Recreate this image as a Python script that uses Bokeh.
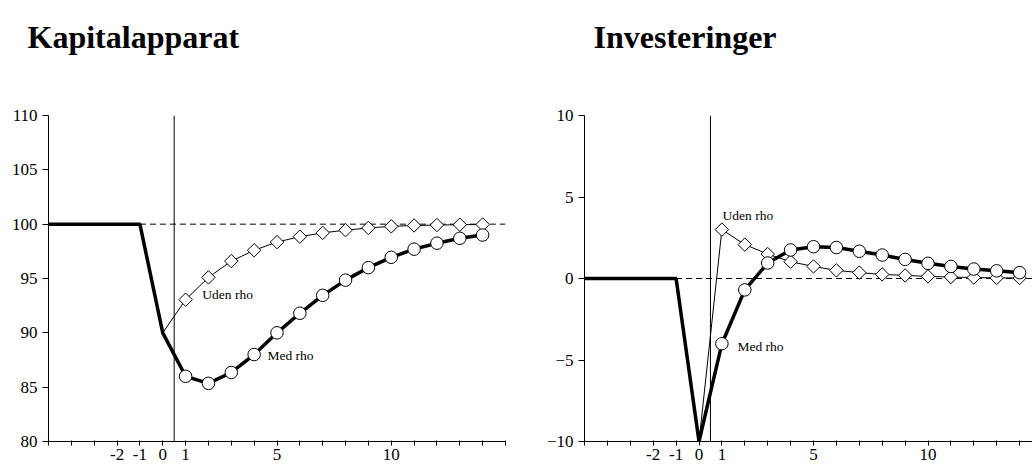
import numpy as np
from bokeh.plotting import figure
from bokeh.models import Range1d, FixedTicker, Label
from bokeh.layouts import row, column
from bokeh.core.properties import value
from bokeh.embed import file_html
from bokeh.resources import INLINE

# ---------------- data ----------------
periods_pre = [-5, -1, 0]
periods = list(range(1, 15))

# Kapitalapparat
kap_pre = [100, 100, 90]
kap_start_uden = 90
kap_med = [86.0, 85.35, 86.35, 88.0, 90.0, 91.8, 93.45, 94.85, 96.0, 96.95, 97.7, 98.25, 98.7, 99.0]
kap_uden = [93.05, 95.1, 96.6, 97.6, 98.35, 98.85, 99.2, 99.45, 99.65, 99.8, 99.88, 99.92, 99.95, 99.97]
kap_base = 100
kap_yticks = [80, 85, 90, 95, 100, 105, 110]

# Investeringer
inv_pre = [0, 0, -10]
inv_start_uden = -10
inv_med = [-4.0, -0.7, 0.95, 1.75, 1.95, 1.9, 1.67, 1.44, 1.17, 0.93, 0.74, 0.58, 0.47, 0.36]
inv_uden = [3.0, 2.08, 1.5, 1.03, 0.74, 0.5, 0.36, 0.25, 0.19, 0.13, 0.09, 0.06, 0.04, 0.03]
inv_base = 0
inv_yticks = [-10, -5, 0, 5, 10]

titles = ["Kapitalapparat", "Investeringer"]
x_ticks = list(range(-5, 16))
x_labels_shown = [-2, -1, 0, 1, 5, 10]
shock_x = 0.5
dash_start = -1

FONT = "Liberation Serif"
TITLE_H = 60


def make_title(text, width, left):
    t = figure(width=width, height=TITLE_H, min_border=0,
               x_range=Range1d(0, width), y_range=Range1d(0, TITLE_H),
               x_axis_location=None, y_axis_location=None,
               output_backend="svg", toolbar_location=None,
               background_fill_color="white", border_fill_color="white")
    t.outline_line_color = None
    t.xgrid.visible = False
    t.ygrid.visible = False
    t.text(x=[left], y=[TITLE_H - 36], text=[text], text_font=value(FONT),
           text_font_size="32px", text_font_style="bold", text_color="black",
           text_baseline="alphabetic", text_align="left")
    return t


def make_panel(pre, start_uden, med, uden, base, yticks, x_end,
               frame_w, border_l, border_r, uden_pos, med_pos):
    ymin, ymax = yticks[0], yticks[-1]
    p = figure(frame_width=frame_w, frame_height=326,
               x_range=Range1d(-5, x_end), y_range=Range1d(ymin, ymax),
               min_border_left=border_l, min_border_right=border_r,
               min_border_top=115 - TITLE_H, min_border_bottom=0,
               output_backend="svg", toolbar_location=None,
               background_fill_color="white", border_fill_color="white")
    p.outline_line_color = None
    p.xgrid.visible = False
    p.ygrid.visible = False

    # axes
    p.xaxis.ticker = FixedTicker(ticks=x_ticks)
    p.xaxis.major_label_overrides = {t: ("" if t not in x_labels_shown else str(t)) for t in x_ticks}
    p.xaxis.minor_tick_line_color = None
    p.xaxis.major_tick_in = 1
    p.xaxis.major_tick_out = 4
    p.xaxis.major_label_standoff = 3
    p.yaxis.ticker = FixedTicker(ticks=yticks)
    p.yaxis.minor_tick_line_color = None
    p.yaxis.major_tick_in = 0
    p.yaxis.major_tick_out = 6
    p.yaxis.major_label_standoff = 5
    for ax in (p.xaxis, p.yaxis):
        ax.major_label_text_font = FONT
        ax.major_label_text_font_size = "17px"
        ax.major_label_text_color = "black"
        ax.axis_line_color = "black"
        ax.major_tick_line_color = "black"

    # reference lines
    p.segment(x0=[shock_x], y0=[ymin], x1=[shock_x], y1=[ymax], line_color="black", line_width=1)
    p.segment(x0=[dash_start], y0=[base], x1=[x_end], y1=[base], line_color="black",
              line_width=1, line_dash="6 4")

    # thin line (Uden rho)
    p.line([0] + periods, [start_uden] + uden, line_color="black", line_width=1)
    # thick line (Med rho)
    p.line(periods_pre + periods, pre + med, line_color="black", line_width=3.5)

    p.scatter(periods, uden, marker="square", angle=np.pi / 4, size=9.5,
              fill_color="white", line_color="black", line_width=1)
    p.scatter(periods, med, marker="circle", size=12.5,
              fill_color="white", line_color="black", line_width=1)

    p.add_layout(Label(x=uden_pos[0], y=uden_pos[1], text="Uden rho", text_font=FONT,
                       text_color="black", text_font_size="13.5px",
                       text_baseline="middle", text_align="left"))
    p.add_layout(Label(x=med_pos[0], y=med_pos[1], text="Med rho", text_font=FONT,
                       text_color="black", text_font_size="13.5px",
                       text_baseline="middle", text_align="left"))
    return p


p1 = make_panel(kap_pre, kap_start_uden, kap_med, kap_uden, kap_base,
                kap_yticks, 15, 457, 48, 35,
                uden_pos=(1.73, 93.53), med_pos=(4.58, 87.9))
p2 = make_panel(inv_pre, inv_start_uden, inv_med, inv_uden, inv_base,
                inv_yticks, -5 + 448 / 22.9, 448, 44, 0,
                uden_pos=(1.03, 3.86), med_pos=(1.68, -4.18))

t1 = make_title(titles[0], 540, 27)
t2 = make_title(titles[1], 492, 53)

layout = column(row(t1, t2), row(p1, p2))
open("out.html", "w").write(file_html(layout, INLINE))
